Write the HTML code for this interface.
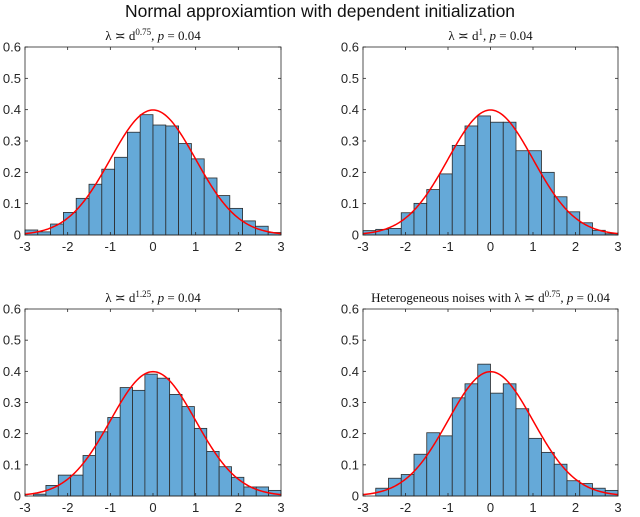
<!DOCTYPE html>
<html><head><meta charset="utf-8"><style>
body{margin:0;background:#fff;}
svg{display:block;font-family:"Liberation Sans",sans-serif;}
</style></head><body>
<svg id="fig" width="640" height="517" viewBox="0 0 640 517">
<text x="320" y="17" text-anchor="middle" font-size="17.5" fill="#111">Normal approxiamtion with dependent initialization</text>
</svg>
<script>
const ticksX=[-3,-2,-1,0,1,2,3];
const ticksY=[0,0.1,0.2,0.3,0.4,0.5,0.6];
const tickLabelsY=['0','0.1','0.2','0.3','0.4','0.5','0.6'];
const binStartA=-3, binWidthA=0.3;
const valuesA=[0.016,0.01,0.035,0.072,0.117,0.162,0.21,0.248,0.328,0.384,0.351,0.348,0.292,0.243,0.182,0.126,0.085,0.045,0.028,0.008];
const binStartB=-3, binWidthB=0.3;
const valuesB=[0.014,0.018,0.021,0.071,0.101,0.145,0.195,0.286,0.348,0.38,0.36,0.36,0.269,0.269,0.2,0.122,0.074,0.039,0.015,0.004];
const binStartC=-2.8, binWidthC=0.29;
const valuesC=[0.006,0.034,0.067,0.067,0.13,0.206,0.252,0.348,0.339,0.391,0.378,0.326,0.287,0.217,0.143,0.094,0.06,0.029,0.029,0.018];
const binStartD=-2.7, binWidthD=0.3;
const valuesD=[0.025,0.057,0.069,0.134,0.203,0.193,0.315,0.36,0.423,0.33,0.36,0.28,0.185,0.14,0.102,0.049,0.04,0.025,0.018];
const fitMu=[0,0,0,0], fitSigma=[1,1,1,1];
const titles=['λ ≍ d<sup>0.75</sup>','λ ≍ d<sup>1</sup>','λ ≍ d<sup>1.25</sup>','Heterogeneous noises with λ ≍ d<sup>0.75</sup>'];

const NS='http://www.w3.org/2000/svg';
const svg=document.getElementById('fig');
function mk(tag,attrs,parent){const e=document.createElementNS(NS,tag);for(const k in attrs)e.setAttribute(k,attrs[k]);(parent||svg).appendChild(e);return e;}

const panels=[
 {l:25,r:281,t:47,b:235,vals:valuesA,s:binStartA,w:binWidthA,title:'λ ≍ d',sup:'0.75',pre:''},
 {l:363,r:618,t:47,b:235,vals:valuesB,s:binStartB,w:binWidthB,title:'λ ≍ d',sup:'1',pre:''},
 {l:25,r:281,t:309,b:496,vals:valuesC,s:binStartC,w:binWidthC,title:'λ ≍ d',sup:'1.25',pre:''},
 {l:363,r:618,t:309,b:496,vals:valuesD,s:binStartD,w:binWidthD,title:'λ ≍ d',sup:'0.75',pre:'Heterogeneous noises with '}
];
panels.forEach((p,pi)=>{
 const g=mk('g',{});
 
 
 const xs=v=>p.l+(v+3)/6*(p.r-p.l);
 const ys=v=>p.b-v/0.6*(p.b-p.t);
 p.vals.forEach((v,i)=>{
  const x0=xs(p.s+i*p.w), x1=xs(p.s+(i+1)*p.w);
  const r=mk('rect',{x:x0,y:ys(v),width:x1-x0,height:p.b-ys(v),fill:'#65a9d8',stroke:'#2b2b2b','stroke-width':0.8},g);
  
  
 });
 let d='';
 for(let k=0;k<=240;k++){const x=-3+6*k/240;const y=Math.exp(-0.5*((x-fitMu[pi])/fitSigma[pi])**2)/(fitSigma[pi]*Math.sqrt(2*Math.PI));d+=(k?'L':'M')+xs(x).toFixed(2)+' '+ys(y).toFixed(2);}
 const c=mk('path',{d:d,fill:'none',stroke:'#ff0000','stroke-width':1.5},g);
 
 
 const box=mk('rect',{x:p.l,y:p.t,width:p.r-p.l,height:p.b-p.t,fill:'none',stroke:'#262626','stroke-width':0.8},g);
 
 
 ticksX.forEach(t=>{
  const x=xs(t);
  mk('line',{x1:x,x2:x,y1:p.b,y2:p.b-3,stroke:'#262626','stroke-width':0.8},g);
  mk('line',{x1:x,x2:x,y1:p.t,y2:p.t+3,stroke:'#262626','stroke-width':0.8},g);
  const tx=mk('text',{x:x,y:p.b+16,'text-anchor':'middle','font-size':13,fill:'#262626'},g);
  tx.textContent=String(t);
  
  
 });
 ticksY.forEach((t,i)=>{
  const y=ys(t);
  mk('line',{x1:p.l,x2:p.l+3,y1:y,y2:y,stroke:'#262626','stroke-width':0.8},g);
  mk('line',{x1:p.r,x2:p.r-3,y1:y,y2:y,stroke:'#262626','stroke-width':0.8},g);
  const tx=mk('text',{x:p.l-4,y:y+4.5,'text-anchor':'end','font-size':13,fill:'#262626'},g);
  tx.textContent=tickLabelsY[i];
  
  
 });
 const tt=mk('text',{x:(p.l+p.r)/2,y:p.t-7,'text-anchor':'middle','font-size':13,fill:'#111','font-family':'"Liberation Serif",serif'},g);
 
 
 const a=mk('tspan',{},tt);a.textContent=p.pre+p.title;
 const s=mk('tspan',{dy:-5,'font-size':9},tt);s.textContent=p.sup;
 const z=mk('tspan',{dy:5,'font-style':'italic'},tt);z.textContent=', p';
 const w=mk('tspan',{},tt);w.textContent=' = 0.04';
});
</script>
</body></html>
